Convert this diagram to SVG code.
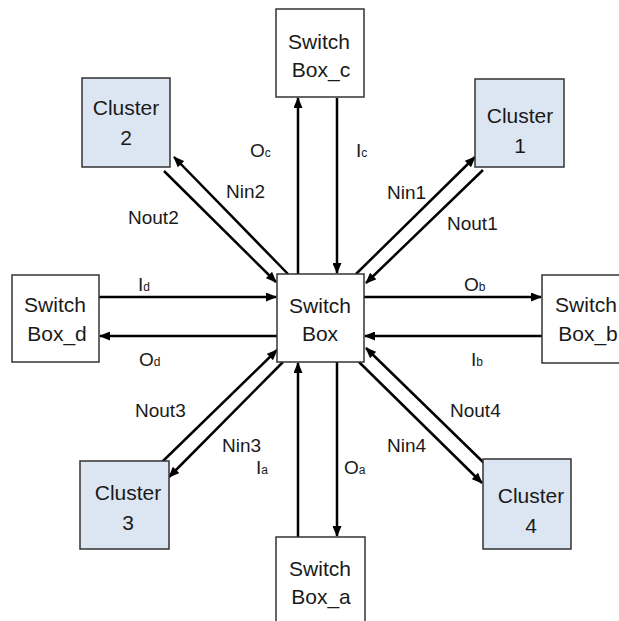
<svg xmlns="http://www.w3.org/2000/svg" width="619" height="621" viewBox="0 0 619 621">
<style>
.box{fill:#ffffff;stroke:#333333;stroke-width:1.5}
.cl{fill:#dce6f2;stroke:#333333;stroke-width:1.5}
.t{font-family:"Liberation Sans",Arial,sans-serif;font-size:21px;fill:#1a1a1a;text-anchor:middle}
.l{font-family:"Liberation Sans",Arial,sans-serif;font-size:19px;fill:#1a1a1a}
.s{font-size:12px}
.c{stroke:#000;stroke-width:2.5;fill:none;marker-end:url(#ah)}
</style>
<defs>
<marker id="ah" viewBox="0 0 11 9" refX="10" refY="4.5" markerWidth="11" markerHeight="9" markerUnits="userSpaceOnUse" orient="auto">
<path d="M0,0 L11,4.5 L0,9 z" fill="#000"/>
</marker>
</defs>
<rect width="619" height="621" fill="#ffffff"/>
<g id="connectors">
<line class="c" x1="298" y1="274" x2="298" y2="98"/>
<line class="c" x1="337" y1="98" x2="337" y2="273"/>
<line class="c" x1="298" y1="537" x2="298" y2="363"/>
<line class="c" x1="337" y1="362" x2="337" y2="536"/>
<line class="c" x1="99" y1="297" x2="276" y2="297"/>
<line class="c" x1="277" y1="336" x2="100" y2="336"/>
<line class="c" x1="364" y1="297" x2="541" y2="297"/>
<line class="c" x1="542" y1="336" x2="365" y2="336"/>
<line class="c" x1="288" y1="274" x2="174" y2="157"/>
<line class="c" x1="164" y1="171" x2="276" y2="282"/>
<line class="c" x1="356" y1="274" x2="475" y2="157"/>
<line class="c" x1="483" y1="170" x2="366" y2="283"/>
<line class="c" x1="162" y1="462" x2="277" y2="350"/>
<line class="c" x1="283" y1="362" x2="169" y2="477"/>
<line class="c" x1="484" y1="463" x2="366" y2="348"/>
<line class="c" x1="359" y1="362" x2="482" y2="483"/>
</g>
<g id="labels">
<text class="l" x="250" y="157">O<tspan class="s">c</tspan></text>
<text class="l" x="356" y="157">I<tspan class="s">c</tspan></text>
<text class="l" x="387" y="199">Nin1</text>
<text class="l" x="447" y="230">Nout1</text>
<text class="l" x="226" y="198">Nin2</text>
<text class="l" x="128" y="224">Nout2</text>
<text class="l" x="138" y="291">I<tspan class="s">d</tspan></text>
<text class="l" x="139" y="366">O<tspan class="s">d</tspan></text>
<text class="l" x="464" y="291">O<tspan class="s">b</tspan></text>
<text class="l" x="471" y="366">I<tspan class="s">b</tspan></text>
<text class="l" x="135" y="417">Nout3</text>
<text class="l" x="222" y="452">Nin3</text>
<text class="l" x="387" y="452">Nin4</text>
<text class="l" x="450" y="417">Nout4</text>
<text class="l" x="256" y="474">I<tspan class="s">a</tspan></text>
<text class="l" x="344" y="474">O<tspan class="s">a</tspan></text>
</g>
<g id="switch_box">
<rect class="box" x="277" y="274" width="87" height="88"/>
<text class="t" x="320" y="313">Switch</text>
<text class="t" x="320" y="341">Box</text>
</g>
<g id="switch_box_c">
<rect class="box" x="276" y="9" width="88" height="88"/>
<text class="t" x="319" y="49">Switch</text>
<text class="t" x="321" y="77">Box_c</text>
</g>
<g id="switch_box_a">
<rect class="box" x="276" y="537" width="89" height="90"/>
<text class="t" x="320" y="576">Switch</text>
<text class="t" x="321" y="604">Box_a</text>
</g>
<g id="switch_box_d">
<rect class="box" x="12" y="275" width="87" height="87"/>
<text class="t" x="55" y="312">Switch</text>
<text class="t" x="57" y="341">Box_d</text>
</g>
<g id="switch_box_b">
<rect class="box" x="542" y="275" width="90" height="88"/>
<text class="t" x="586" y="312">Switch</text>
<text class="t" x="588" y="341">Box_b</text>
</g>
<g id="cluster_2">
<rect class="cl" x="82" y="78" width="88" height="89"/>
<text class="t" x="126" y="115">Cluster</text>
<text class="t" x="126" y="145">2</text>
</g>
<g id="cluster_1">
<rect class="cl" x="475" y="79" width="89" height="88"/>
<text class="t" x="520" y="123">Cluster</text>
<text class="t" x="520" y="153">1</text>
</g>
<g id="cluster_3">
<rect class="cl" x="80" y="461" width="89" height="88"/>
<text class="t" x="128" y="500">Cluster</text>
<text class="t" x="128" y="530">3</text>
</g>
<g id="cluster_4">
<rect class="cl" x="483" y="459" width="88" height="90"/>
<text class="t" x="531" y="503">Cluster</text>
<text class="t" x="531" y="533">4</text>
</g>
</svg>
